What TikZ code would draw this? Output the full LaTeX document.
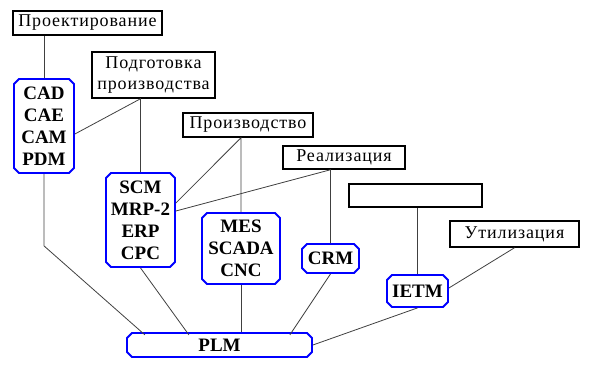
\documentclass[tikz,border=0pt]{standalone}
\usepackage{fontspec}
\setmainfont{Liberation Serif}
\newfontfamily\tnr{Liberation Serif}
\newfontfamily\tnrsp[LetterSpace=5]{Liberation Serif}
\usetikzlibrary{shapes.misc,calc}
\tikzset{
  stage/.style={draw=black, line width=1.5pt, rectangle, inner sep=0pt, font=\tnrsp\fontsize{18}{21}\selectfont, align=center},
  sys/.style={draw=blue, line width=1.8pt, chamfered rectangle, chamfered rectangle xsep=2.5pt, chamfered rectangle ysep=2.5pt, chamfered rectangle corners={north west,north east,south west,south east}, inner sep=0pt, font=\tnr\fontsize{19}{22}\bfseries\selectfont, align=center, fill=white},
  link/.style={draw=black!75, line width=0.8pt},
}
\begin{document}
\begin{tikzpicture}[x=1pt,y=-1pt]
\useasboundingbox (0,0) rectangle (591,374);
% stages
\node[stage, minimum width=149pt, minimum height=24pt] (proj) at (87.5,23) {Проектирование};
\node[stage, minimum width=123pt, minimum height=46pt] (podg) at (153.5,75) {Подготовка\\производства};
\node[stage, minimum width=130pt, minimum height=24pt] (proizv) at (248,125) {Производство};
\node[stage, minimum width=122pt, minimum height=23pt] (real) at (344,157.5) {Реализация};
\node[stage, minimum width=133pt, minimum height=23pt] (empty) at (415.5,195.5) {};
\node[stage, minimum width=129pt, minimum height=26pt] (util) at (514.5,234) {Утилизация};
% systems
\node[sys, minimum width=60pt, minimum height=94pt] (cad) at (44,126) {CAD\\CAE\\CAM\\PDM};
\node[sys, minimum width=69pt, minimum height=94pt] (scm) at (140.5,220) {SCM\\MRP-2\\ERP\\CPC};
\node[sys, minimum width=78pt, minimum height=71pt] (mes) at (241,248.5) {MES\\SCADA\\CNC};
\node[sys, minimum width=57pt, minimum height=29pt] (crm) at (330.5,258.5) {CRM};
\node[sys, minimum width=61pt, minimum height=32pt] (ietm) at (417.5,291) {IETM};
\node[sys, minimum width=185pt, minimum height=24pt] (plm) at (219.5,345) {PLM};
% connectors
\draw[link] (cad.north) -- (cad.north |- proj.south);
\draw[link] (scm.north) -- (scm.north |- podg.south) -- ([yshift=-8pt]cad.east);
\draw[link] (mes.north) -- (mes.north |- proizv.south) -- ([yshift=17pt]scm.east);
\draw[link] (crm.north) -- (crm.north |- real.south) -- ([yshift=9pt]scm.east);
\draw[link] (ietm.north) -- (ietm.north |- empty.south);
\draw[link] (util.south) -- ([yshift=3pt]ietm.east);
\draw[link] (cad.south) -- ++(0,72) -- ($(plm.north west)+(16,0)$);
\draw[link] (scm.south) -- ($(plm.north west)+(60,0)$);
\draw[link] (mes.south) -- (mes.south |- plm.north);
\draw[link] (crm.south) -- ($(plm.north west)+(161,0)$);
\draw[link] (ietm.south) -- (plm.east);
\end{tikzpicture}
\end{document}
